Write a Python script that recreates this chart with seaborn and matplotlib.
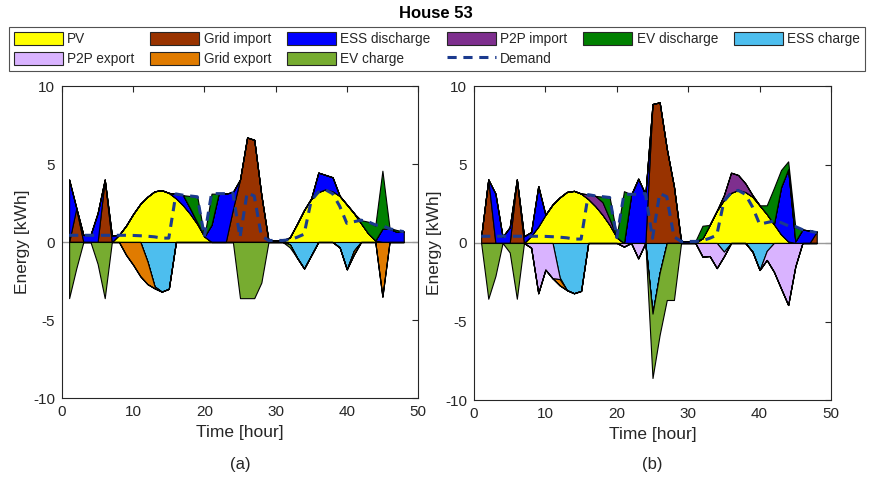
import matplotlib
matplotlib.use("Agg")
import matplotlib.pyplot as plt
import seaborn as sns
import pandas as pd
from matplotlib.patches import Patch
from matplotlib.lines import Line2D

hours = list(range(1, 49))

pv = [0, 0, 0, 0, 0, 0, 0, 0.45, 1.05, 1.8, 2.45, 2.9,
      3.25, 3.32, 3.15, 2.8, 2.35, 1.8, 1.15, 0.35, 0, 0, 0, 0,
      0, 0, 0, 0, 0, 0, 0, 0.3, 1.15, 2.05, 2.75, 3.2,
      3.38, 3.25, 2.95, 2.4, 1.85, 1.2, 0.55, 0.1, 0, 0, 0, 0]

demand = [0.43, 0.43, 0.43, 0.43, 0.43, 0.43, 0.43, 0.43, 0.43, 0.42, 0.40, 0.37,
          0.33, 0.25, 0.25, 3.08, 3.0, 2.95, 2.9, 0.35, 3.1, 3.1, 3.1, 3.15,
          0.3, 3.15, 2.95, 0.4, 0.1, 0.1, 0.1, 0.15, 0.3, 0.5, 2.65, 3.2,
          3.35, 3.1, 2.3, 1.2, 1.3, 1.4, 1.3, 1.1, 1.05, 0.85, 0.75, 0.66]

# ---------- panel (a) ----------
grid_imp_a = [0, 2.15, 0, 0, 0, 4.0, 0, 0, 0, 0, 0, 0,
              0, 0, 0, 0, 0, 0, 0, 0, 0, 0, 0, 2.1,
              4.0, 6.7, 6.55, 3.0, 0, 0, 0, 0, 0, 0, 0, 0,
              0, 0, 0, 0, 0, 0, 0, 0, 0, 0, 0, 0]
ess_dis_a = [4.0, 0.05, 0.45, 0.45, 1.85, 0, 0.43, 0, 0, 0, 0, 0,
             0, 0, 0, 0.28, 0.65, 0.35, 0.1, 0, 1.1, 3.1, 3.1, 1.1,
             0, 0, 0, 0, 0.1, 0.1, 0.1, 0, 0, 0, 0.05, 1.25,
             0.92, 0.9, 0, 0, 0, 0, 0, 0, 0.85, 0.85, 0.65, 0.67]
p2p_imp_a = [0] * 48
ev_dis_a = [0, 0, 0, 0, 0, 0, 0, 0, 0, 0, 0, 0,
            0, 0, 0, 0, 0, 0.8, 1.66, 0, 2.0, 0, 0, 0,
            0, 0, 0, 0, 0, 0, 0, 0, 0, 0, 0, 0,
            0, 0, 0, 0, 0, 0.2, 0.75, 0.95, 3.72, 0.05, 0.12, 0]
ess_ch_a = [0, 0, 0, 0, 0, 0, 0, 0, 0, 0, 0, -1.25,
            -2.85, -3.18, -3.0, 0, 0, 0, 0, 0, 0, 0, 0, 0,
            0, 0, 0, 0, 0, 0, 0, -0.15, -1.0, -1.7, -0.85, 0,
            0, 0, -0.35, -1.75, -0.55, 0, 0, 0, 0, 0, 0, 0]
p2p_exp_a = [0] * 48
grid_exp_a = [0, 0, 0, 0, 0, 0, 0, 0, -0.83, -1.47, -2.2, -1.45,
              -0.12, 0, 0, 0, 0, 0, 0, 0, 0, 0, 0, 0,
              0, 0, 0, 0, 0, 0, 0, 0, 0, 0, 0, 0,
              0, 0, 0, 0, -0.25, 0, 0, 0, -3.5, 0, 0, 0]
ev_ch_a = [-3.6, -1.7, 0, 0, -1.4, -3.6, 0, 0, 0, 0, 0, 0,
           0, 0, 0, 0, 0, 0, 0, 0, 0, 0, 0, 0,
           -3.6, -3.6, -3.6, -2.6, 0, 0, 0, -0.2, 0, 0, 0, 0,
           0, 0, 0, 0, 0, 0, 0, 0, 0, 0, 0, 0]

# ---------- panel (b) ----------
grid_imp_b = [0.4, 4.05, 0, 0, 0, 4.05, 0, 0, 0, 0, 0, 0,
              0, 0, 0, 0, 0, 0, 0, 0, 0, 0, 0, 0,
              8.85, 8.96, 6.0, 3.6, 0, 0, 0, 0, 0, 0, 0, 0,
              0, 0, 0, 0, 0, 0, 0, 0, 0, 0, 0, 0.72]
ess_dis_b = [0, 0, 3.15, 0.4, 1.0, 0, 0.43, 0.25, 2.58, 0, 0, 0,
             0, 0, 0, 0, 0, 0, 0, 0, 0, 3.05, 4.1, 3.1,
             0, 0, 0, 0, 0.12, 0.12, 0.12, 0, 0, 0, 0, 0,
             0, 0, 0, 0, 0, 0, 3.0, 4.6, 0.1, 0.85, 0.8, 0]
p2p_imp_b = [0, 0, 0, 0, 0, 0, 0, 0, 0, 0, 0, 0,
             0, 0, 0, 0.3, 0.65, 0.8, 0.38, 0, 0, 0, 0, 0,
             0, 0, 0, 0, 0, 0, 0, 0, 0, 0, 0.3, 1.28,
             0.95, 0.55, 0.1, 0, 0, 0, 0, 0, 0, 0, 0, 0]
ev_dis_b = [0, 0, 0, 0, 0, 0, 0, 0, 0, 0, 0, 0,
            0, 0, 0, 0, 0, 0.35, 1.37, 0.15, 3.3, 0.05, 0, 0,
            0, 0, 0, 0, 0, 0, 0, 0.8, 0, 0, 0, 0,
            0, 0, 0, 0, 0.55, 2.3, 1.1, 0.5, 0.9, 0, 0, 0]
ess_ch_b = [0, 0, 0, 0, 0, 0, 0, 0, 0, 0, 0, -2.2,
            -3.0, -3.2, -3.05, 0, 0, 0, 0, 0, 0, 0, 0, 0,
            -4.5, -1.9, 0, 0, 0, 0, 0, 0, 0, 0, -0.55, 0,
            0, 0, -0.55, -1.72, -0.5, 0, 0, 0, 0, 0, 0, 0]
p2p_exp_b = [0, 0, 0, 0, 0, 0, 0, -0.3, -3.2, -1.7, -2.25, -0.1,
             0, 0, 0, 0, 0, 0, 0, 0, -0.23, 0, -0.98, 0,
             0, 0, 0, 0, 0, 0, 0, -0.87, -0.83, -1.6, -0.3, 0,
             0, 0, 0, 0, -0.58, -1.83, -2.9, -3.95, -1.5, 0, 0, 0]
grid_exp_b = [0, 0, 0, 0, 0, 0, 0, 0, 0, 0, 0, -0.4,
              0, 0, 0, 0, 0, 0, 0, 0, 0, 0, 0, 0,
              0, 0, 0, 0, 0, 0, 0, 0, 0, 0, 0, 0,
              0, 0, 0, 0, 0, 0, 0, 0, 0, 0, 0, 0]
ev_ch_b = [0, -3.55, -2.1, 0, -0.6, -3.55, 0, 0, 0, 0, 0, 0,
           0, 0, 0, 0, 0, 0, 0, 0, 0, 0, 0, 0,
           -4.1, -3.95, -3.63, -3.63, 0, 0, 0, 0, 0, 0, 0, 0,
           0, 0, 0, 0, 0, 0, 0, 0, 0, 0, 0, 0]

pos_labels = ["PV", "Grid import", "ESS discharge", "P2P import", "EV discharge"]
neg_labels = ["ESS charge", "P2P export", "Grid export", "EV charge"]
pos_colors = ["#FFFF00", "#993300", "#0000FF", "#7E2F8E", "#008000"]
neg_colors = ["#4DBEEE", "#D9B3FF", "#E07B00", "#77AC30"]
demand_color = "#1B3A8E"

sns.set_theme(style="white")
plt.rcParams["font.family"] = ["Liberation Sans", "DejaVu Sans"]
plt.rcParams["axes.unicode_minus"] = False
axis_col = "#262626"

fig = plt.figure(figsize=(8.71, 4.79), dpi=100)
ax1 = fig.add_axes([62 / 871, 1 - 398 / 479, 356 / 871, 312 / 479])
ax2 = fig.add_axes([474 / 871, 1 - 400 / 479, 357 / 871, 314 / 479])

panels = [
    (ax1, [pv, grid_imp_a, ess_dis_a, p2p_imp_a, ev_dis_a],
     [ess_ch_a, p2p_exp_a, grid_exp_a, ev_ch_a]),
    (ax2, [pv, grid_imp_b, ess_dis_b, p2p_imp_b, ev_dis_b],
     [ess_ch_b, p2p_exp_b, grid_exp_b, ev_ch_b]),
]

for ax, pos, neg in panels:
    ax.axhline(0, color="#9a9a9a", lw=1.0, zorder=1)
    ax.stackplot(hours, *pos, colors=pos_colors, edgecolor="black",
                 linewidth=0.8, zorder=2)
    ax.stackplot(hours, *neg, colors=neg_colors, edgecolor="black",
                 linewidth=0.8, zorder=2)
    df = pd.DataFrame({"t": hours, "demand": demand})
    sns.lineplot(data=df, x="t", y="demand", ax=ax, color=demand_color,
                 lw=2.2, linestyle=(0, (3, 2.2)), zorder=3)
    ax.set_xlim(0, 50)
    ax.set_ylim(-10, 10)
    ax.set_xticks([0, 10, 20, 30, 40, 50])
    ax.set_yticks([-10, -5, 0, 5, 10])
    ax.tick_params(direction="in", top=True, right=True, length=4,
                   width=0.8, color=axis_col, labelcolor=axis_col,
                   labelsize=11, pad=5)
    for s in ax.spines.values():
        s.set_color(axis_col)
        s.set_linewidth(0.8)
        s.set_visible(True)
    ax.set_xlabel("Time [hour]", fontsize=12.5, color=axis_col, labelpad=4)
    ax.set_ylabel("Energy [kWh]", fontsize=12.5, color=axis_col, labelpad=2)
    ax.grid(False)

fig.text(240 / 871, 1 - 465 / 479, "(a)", ha="center", va="center",
         fontsize=12, color=axis_col)
fig.text(652 / 871, 1 - 465 / 479, "(b)", ha="center", va="center",
         fontsize=12, color=axis_col)
fig.text(436 / 871, 1 - 14 / 479, "House 53", ha="center", va="center",
         fontsize=12, fontweight="bold", color="black")

all_labels = pos_labels + neg_labels
all_colors = pos_colors + neg_colors
handles = {lab: Patch(facecolor=c, edgecolor=axis_col, linewidth=0.8)
           for lab, c in zip(all_labels, all_colors)}
handles["Demand"] = Line2D([0], [0], color=demand_color, lw=2.2,
                           linestyle=(0, (3, 2.2)))
order = ["PV", "P2P export", "Grid import", "Grid export", "ESS discharge",
         "EV charge", "P2P import", "Demand", "EV discharge", "ESS charge"]
leg = fig.legend([handles[k] for k in order], order, ncol=6,
                 loc="center", bbox_to_anchor=(437 / 871, 1 - 49 / 479),
                 fontsize=9.8, frameon=True, fancybox=False,
                 edgecolor=axis_col, handlelength=3.6, handleheight=1.15,
                 handletextpad=0.3, columnspacing=1.2, labelspacing=0.4,
                 borderpad=0.35, borderaxespad=0)
leg.get_frame().set_linewidth(0.8)

fig.savefig("out.png", dpi=100)
